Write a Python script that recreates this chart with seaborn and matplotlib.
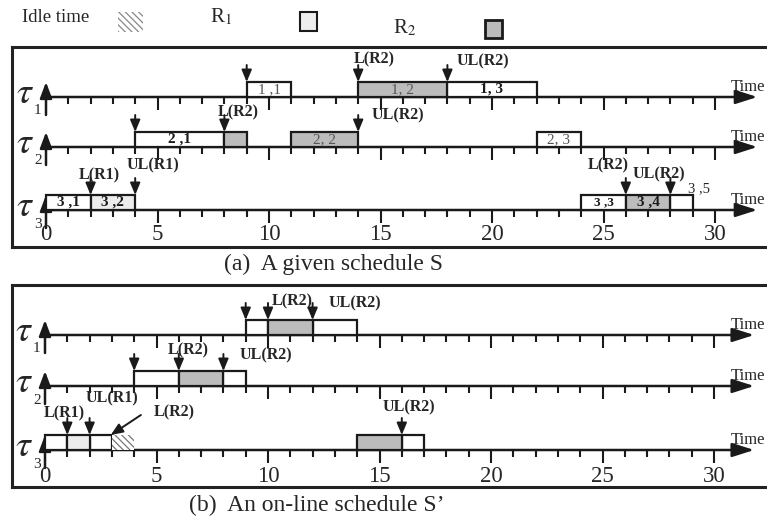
import matplotlib
matplotlib.use("Agg")
import matplotlib.pyplot as plt
import seaborn as sns
from matplotlib.patches import Rectangle

# --- data: schedule S (a) ---
a_task = [1, 1, 1, 2, 2, 2, 2, 3, 3, 3, 3, 3]
a_start = [9, 14, 18, 4, 8, 11, 22, 0, 2, 24, 26, 28]
a_end = [11, 18, 22, 8, 9, 14, 24, 2, 4, 26, 28, 29]
a_kind = ['free', 'R2', 'free', 'free', 'R2', 'R2', 'free', 'free', 'R1', 'free', 'R2', 'free']
a_label = ['1 ,1', '1, 2', '1, 3', '2 ,1', '', '2, 2', '2, 3', '3 ,1', '3 ,2', '3 ,3', '3 ,4', '']

a_arrow_task = [1, 1, 1, 2, 2, 2, 3, 3, 3, 3]
a_arrow_time = [9, 14, 18, 4, 8, 14, 2, 4, 26, 28]
a_arrow_text = ['', 'L(R2)', 'UL(R2)', '', 'L(R2)', 'UL(R2)', 'L(R1)', 'UL(R1)', 'L(R2)', 'UL(R2)']

# --- data: on-line schedule S' (b) ---
b_task = [1, 1, 1, 2, 2, 2, 3, 3, 3, 3, 3, 3]
b_start = [9, 10, 12, 4, 6, 8, 0, 1, 2, 3, 14, 16]
b_end = [10, 12, 14, 6, 8, 9, 1, 2, 3, 4, 16, 17]
b_kind = ['free', 'R2', 'free', 'free', 'R2', 'free', 'free', 'R1', 'free', 'idle', 'R2', 'free']

b_arrow_task = [1, 1, 1, 2, 2, 2, 3, 3, 3]
b_arrow_time = [9, 10, 12, 4, 6, 8, 1, 2, 16]
b_arrow_text = ['', 'L(R2)', 'UL(R2)', '', 'L(R2)', 'UL(R2)', 'L(R1)', 'UL(R1)', 'UL(R2)']

tick_values = [0, 5, 10, 15, 20, 25, 30]

# --- style ---
sns.set_theme(style="white")
plt.rcParams['font.family'] = ['Liberation Serif', 'DejaVu Serif']
plt.rcParams['mathtext.fontset'] = 'stix'
plt.rcParams['hatch.linewidth'] = 0.9

colors = {'free': 'white', 'R1': '#ececec', 'R2': '#bcbcbc', 'idle': 'white'}
PX = 22.3          # pixels per time unit
BOX_H = 15
W, H = 767, 522

fig = plt.figure(figsize=(W / 100, H / 100), dpi=100)


def add_panel(top, bottom, x0):
    ax = fig.add_axes([12 / W, 1 - bottom / H, (800 - 12) / W, (bottom - top) / H])
    ax.set_xlim((12 - x0) / PX, (800 - x0) / PX)
    ax.set_ylim(bottom - top, 0)
    ax.set_xticks([])
    ax.set_yticks([])
    for s in ax.spines.values():
        s.set_linewidth(2.2)
        s.set_color('#222222')
    return ax


def draw_axes(ax, rows, tip, time_x, num_y):
    for i, yb in enumerate(rows):
        ax.annotate('', xy=(tip, yb), xytext=(0, yb),
                    arrowprops=dict(arrowstyle='-|>,head_length=1.1,head_width=0.35',
                                    color='k', lw=1.8, shrinkA=0, shrinkB=0))
        ax.annotate('', xy=(0, yb - 15), xytext=(0, yb + 18),
                    arrowprops=dict(arrowstyle='-|>,head_length=0.8,head_width=0.3',
                                    color='k', lw=1.8, shrinkA=0, shrinkB=0))
        minor = [t for t in range(1, 31) if t % 5]
        major = [t for t in range(5, 31, 5)]
        ax.vlines(minor, yb, yb + 7, color='k', lw=1.5)
        ax.vlines(major, yb, yb + 13, color='k', lw=1.5)
        ax.text(-0.95, yb - 3, r'$\tau$', fontsize=27, ha='center', va='center')
        ax.text(-0.36, yb + 14, str(i + 1), fontsize=11, ha='center', va='center')
        ax.text(time_x, yb - 10, 'Time', fontsize=12, ha='left', va='center')
    for t in tick_values:
        ax.text(t, num_y, str(t), fontsize=16.5, ha='center', va='center')


def draw_jobs(ax, rows, task, start, end, kind):
    for k in ['free', 'R1', 'R2']:
        idx = [i for i in range(len(task)) if kind[i] == k]
        if not idx:
            continue
        ax.barh([rows[task[i] - 1] - BOX_H / 2 for i in idx],
                [end[i] - start[i] for i in idx],
                left=[start[i] for i in idx], height=BOX_H,
                color=colors[k], edgecolor='k', linewidth=1.6, zorder=3)
    idx = [i for i in range(len(task)) if kind[i] == 'idle']
    if idx:
        ax.barh([rows[task[i] - 1] - BOX_H / 2 for i in idx],
                [end[i] - start[i] for i in idx],
                left=[start[i] for i in idx], height=BOX_H,
                color='white', edgecolor='#777777', linewidth=0, hatch='\\\\\\\\\\', zorder=3)


def draw_arrows(ax, rows, task, times, texts, text_pos):
    for j, (tk, t) in enumerate(zip(task, times)):
        top = rows[tk - 1] - BOX_H
        ax.annotate('', xy=(t, top), xytext=(t, top - 17),
                    arrowprops=dict(arrowstyle='-|>,head_length=0.6,head_width=0.25',
                                    color='k', lw=1.4, shrinkA=0, shrinkB=0), zorder=5)
        if texts[j]:
            tx, ty = text_pos[j]
            ax.text(tx, ty, texts[j], fontsize=11.5, fontweight='bold',
                    ha='center', va='center', zorder=6)


# ---------- panel (a) ----------
ax_a = add_panel(47, 247, 46)
rows_a = [50, 100, 163]
draw_axes(ax_a, rows_a, 31.9, 30.7, 188)
draw_jobs(ax_a, rows_a, a_task, a_start, a_end, a_kind)
bold_labels = {'1, 3', '2 ,1', '3 ,1', '3 ,2', '3 ,3', '3 ,4'}
for i, lab in enumerate(a_label):
    if lab:
        ax_a.text((a_start[i] + a_end[i]) / 2, rows_a[a_task[i] - 1] - BOX_H / 2, lab,
                  fontsize=11 if lab != '3 ,3' else 9.5,
                  fontweight='bold' if lab in bold_labels else 'normal',
                  color='k' if lab in bold_labels else '#555555',
                  ha='center', va='center', zorder=4)
ax_a.text(29.3, 142, '3 ,5', fontsize=10.5, ha='center', va='center')
pos_a = [None, (14.7, 12), (19.6, 14), None, (8.6, 65), (15.8, 68),
         (2.4, 128), (4.8, 118), (25.2, 118), (27.5, 127)]
draw_arrows(ax_a, rows_a, a_arrow_task, a_arrow_time, a_arrow_text, pos_a)

# ---------- panel (b) ----------
ax_b = add_panel(285, 487, 45)
rows_b = [50, 101, 165]
draw_axes(ax_b, rows_b, 31.8, 30.75, 192)
draw_jobs(ax_b, rows_b, b_task, b_start, b_end, b_kind)
pos_b = [None, (11.1, 16), (13.9, 18), None, (6.4, 65), (9.9, 70),
         (0.85, 128), (3.0, 113), (16.3, 122)]
draw_arrows(ax_b, rows_b, b_arrow_task, b_arrow_time, b_arrow_text, pos_b)
ax_b.annotate('', xy=(2.95, rows_b[2] - BOX_H), xytext=(4.3, 130),
              arrowprops=dict(arrowstyle='-|>,head_length=0.6,head_width=0.25',
                              color='k', lw=1.4, shrinkA=0, shrinkB=0), zorder=5)
ax_b.text(5.8, 127, 'L(R2)', fontsize=11.5, fontweight='bold', ha='center', va='center')

# captions
fig.text(334 / W, 1 - 264 / H, '(a)  A given schedule S', fontsize=17, ha='center', va='center')
fig.text(317 / W, 1 - 505 / H, "(b)  An on-line schedule S\u2019", fontsize=17, ha='center', va='center')

# ---------- legend row ----------
lg = fig.add_axes([0, 1 - 45 / H, 1, 45 / H])
lg.set_xlim(0, W)
lg.set_ylim(45, 0)
lg.axis('off')
lg.text(22, 18, 'Idle time', fontsize=13.5, ha='left', va='center')
lg.add_patch(Rectangle((118, 12), 25, 20, facecolor='white', edgecolor='#888888',
                       linewidth=0, hatch='\\\\\\\\\\'))
lg.text(210, 17, r'R$_1$', fontsize=15, ha='left', va='center')
lg.add_patch(Rectangle((300, 12), 17, 19, facecolor='#eeeeee', edgecolor='k', linewidth=1.5))
lg.text(393, 28, r'R$_2$', fontsize=15, ha='left', va='center')
lg.add_patch(Rectangle((485, 20), 17, 18, facecolor='#bcbcbc', edgecolor='k', linewidth=2))

fig.savefig('out.png', dpi=100)
